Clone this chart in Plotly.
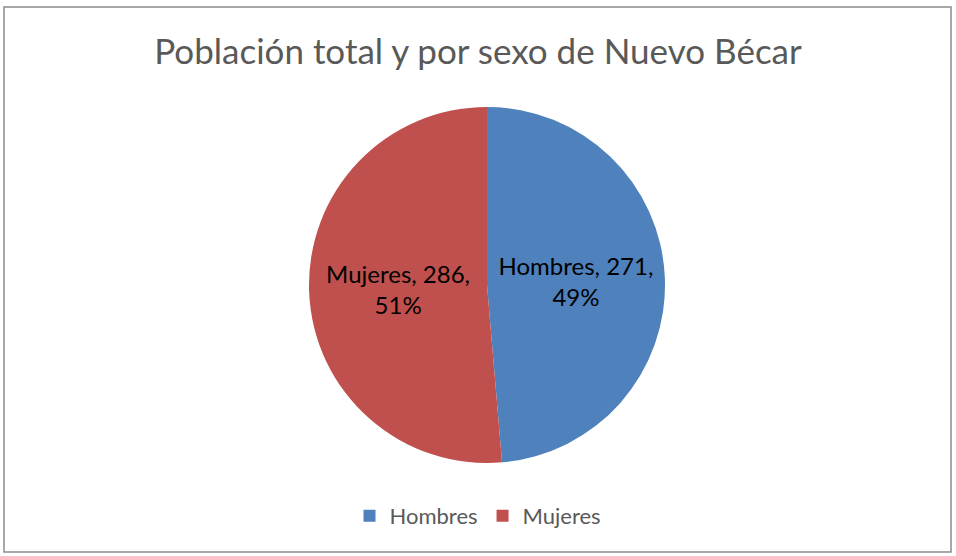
import plotly.graph_objects as go

title = "Población total y por sexo de Nuevo Bécar"
categories = ["Hombres", "Mujeres"]
values = [271, 286]
colors = ["#4F81BD", "#C0504D"]

W, H = 956, 556
cx, cy, r = 487, 285, 178
top, bottom = cy - r, cy + r
ph = bottom - top

FONT = "Lato, Open Sans, sans-serif"

fig = go.Figure(go.Pie(
    labels=categories,
    values=values,
    marker=dict(colors=colors, line=dict(color="#FFFFFF", width=0)),
    sort=False,
    direction="clockwise",
    rotation=0,
    texttemplate="%{label}, %{value},<br>%{percent:.0%}",
    textposition="inside",
    insidetextorientation="horizontal",
    textfont=dict(family=FONT, size=24, color="#000000"),
    hoverinfo="label+value+percent",
    domain=dict(x=[(cx - r) / W, (cx + r) / W], y=[0, 1]),
))

fig.update_layout(
    width=W, height=H,
    margin=dict(l=0, r=0, t=top, b=H - bottom),
    paper_bgcolor="#FFFFFF",
    plot_bgcolor="#FFFFFF",
    title=dict(text=title, x=0.5, xanchor="center", y=1 - 52 / H, yanchor="middle",
               font=dict(family=FONT, size=35, color="#595959")),
    showlegend=True,
    legend=dict(orientation="h", x=0.5, xanchor="center", y=(bottom - 516) / ph, yanchor="middle",
                font=dict(family=FONT, size=22, color="#595959"),
                traceorder="normal"),
    shapes=[dict(type="rect", xref="paper", yref="paper",
                 x0=4 / W, x1=951 / W,
                 y0=(bottom - 552) / ph, y1=(bottom - 7) / ph,
                 line=dict(color="#8C8C8C", width=1.5), layer="below")],
)
fig.write_html("out.html", config={"displayModeBar": False},
               post_script="document.body.style.margin='0';document.body.style.overflow='hidden';")
